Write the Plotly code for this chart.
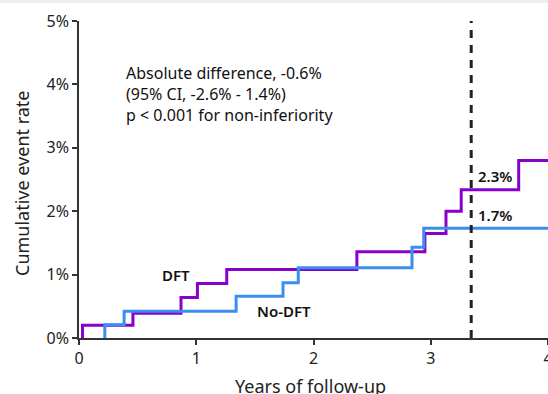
import plotly.graph_objects as go

# Data (years, cumulative event rate %)
dft_x = [0.03, 0.03, 0.46, 0.87, 1.01, 1.26, 2.37, 2.95, 3.13, 3.26, 3.75, 4.0]
dft_y = [0.0, 0.20, 0.39, 0.64, 0.86, 1.08, 1.36, 1.65, 2.00, 2.34, 2.80, 2.80]
nodft_x = [0.22, 0.22, 0.385, 1.34, 1.74, 1.87, 2.84, 2.94, 4.0]
nodft_y = [0.0, 0.21, 0.42, 0.66, 0.87, 1.11, 1.43, 1.73, 1.73]
x_ticks = [0, 1, 2, 3, 4]
y_ticks = [0, 1, 2, 3, 4, 5]
landmark_year = 3.345
end_labels = ["2.3%", "1.7%"]
stats_lines = ["Absolute difference, -0.6%", "(95% CI, -2.6% - 1.4%)", "p < 0.001 for non-inferiority"]

PURPLE = "#8800cc"
BLUE = "#3a8ef0"
FONT = "Noto Sans"

W, H = 548, 394
ML, MR, MT, MB = 79, 0, 21, 56
PW, PH = W - ML - MR, H - MT - MB

fig = go.Figure()
fig.add_trace(go.Scatter(x=dft_x, y=dft_y, mode="lines", line=dict(shape="hv", color=PURPLE, width=3),
                         name="DFT", showlegend=False))
fig.add_trace(go.Scatter(x=nodft_x, y=nodft_y, mode="lines", line=dict(shape="hv", color=BLUE, width=3),
                         name="No-DFT", showlegend=False))

fig.add_shape(type="line", x0=landmark_year, x1=landmark_year, y0=0, y1=5, xref="x", yref="y",
              line=dict(color="#222222", width=3, dash="8px,7px"))

# top light strip
fig.add_shape(type="rect", xref="paper", yref="paper", x0=-ML / PW, x1=1, y0=1 + (MT - 3) / PH, y1=1 + MT / PH,
              fillcolor="#eeeeee", line=dict(width=0), layer="below")

ann_font = dict(family=FONT, size=16, color="#111111")
fig.add_annotation(x=(124 - ML) / PW, y=(MT + PH - 94) / PH, xref="paper", yref="paper",
                   xanchor="left", yanchor="middle", align="left",
                   showarrow=False, font=ann_font, text="<br>".join(stats_lines))
bold = dict(family=FONT, size=15, color="#111111", weight=600)
fig.add_annotation(x=0.83, y=1.0, text="DFT", showarrow=False, font=bold, xanchor="center", yanchor="middle")
fig.add_annotation(x=1.75, y=0.42, text="No-DFT", showarrow=False, font=bold, xanchor="center", yanchor="middle")
fig.add_annotation(x=3.385, y=2.55, text=end_labels[0], showarrow=False, font=bold, xanchor="left", yanchor="middle")
fig.add_annotation(x=3.385, y=1.94, text=end_labels[1], showarrow=False, font=bold, xanchor="left", yanchor="middle")

title_font = dict(family=FONT, size=18, color="#222222")
fig.add_annotation(x=(310 - ML) / PW, y=-(386 - (MT + PH)) / PH, xref="paper", yref="paper",
                   text="Years of follow-up", showarrow=False, font=title_font, xanchor="center", yanchor="middle")
fig.add_annotation(x=-(ML - 22) / PW, y=(MT + PH - 183) / PH, xref="paper", yref="paper",
                   text="Cumulative event rate", showarrow=False, font=title_font, textangle=-90,
                   xanchor="center", yanchor="middle")

axis_common = dict(showgrid=False, zeroline=False, showline=True, linecolor="#333333", linewidth=1.5,
                   ticks="outside", ticklen=5, tickwidth=1.5, tickcolor="#333333",
                   tickfont=dict(family=FONT, size=16, color="#222222"), automargin=False,
                   ticklabeloverflow="allow")
fig.update_xaxes(range=[0, 4], tickvals=x_ticks, ticktext=[str(v) for v in x_ticks], **axis_common)
fig.update_yaxes(range=[0, 5], tickvals=y_ticks, ticktext=[f"{v}%" for v in y_ticks], **axis_common)

fig.update_layout(width=W, height=H, margin=dict(l=ML, r=MR, t=MT, b=MB),
                  plot_bgcolor="white", paper_bgcolor="white", showlegend=False)

fig.write_html("out.html")
